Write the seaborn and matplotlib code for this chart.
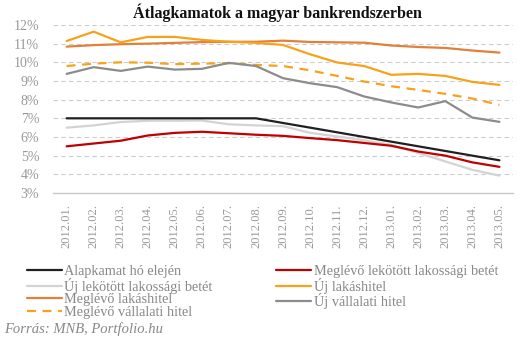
import matplotlib
matplotlib.use("Agg")
import matplotlib.pyplot as plt
import seaborn as sns
import pandas as pd

months = ["2012.01.", "2012.02.", "2012.03.", "2012.04.", "2012.05.", "2012.06.",
          "2012.07.", "2012.08.", "2012.09.", "2012.10.", "2012.11.", "2012.12.",
          "2013.01.", "2013.02.", "2013.03.", "2013.04.", "2013.05."]

alapkamat = [7.0, 7.0, 7.0, 7.0, 7.0, 7.0, 7.0, 7.0, 6.75, 6.5, 6.25, 6.0,
             5.75, 5.5, 5.25, 5.0, 4.75]
meglevo_betet = [5.5, 5.65, 5.8, 6.08, 6.22, 6.28, 6.2, 6.12, 6.06, 5.94, 5.83,
                 5.68, 5.53, 5.22, 5.0, 4.64, 4.4]
uj_betet = [6.5, 6.62, 6.8, 6.87, 6.87, 6.88, 6.68, 6.62, 6.58, 6.22, 6.03,
            5.82, 5.58, 5.14, 4.69, 4.24, 3.93]
uj_lakashitel = [11.14, 11.64, 11.07, 11.36, 11.36, 11.2, 11.1, 11.04, 10.93,
                 10.43, 9.99, 9.8, 9.33, 9.38, 9.27, 8.95, 8.79]
meglevo_lakashitel = [10.84, 10.92, 10.97, 11.0, 11.04, 11.08, 11.1, 11.1, 11.16,
                      11.09, 11.07, 11.05, 10.9, 10.82, 10.77, 10.63, 10.52]
uj_vallalati = [9.38, 9.74, 9.54, 9.77, 9.61, 9.65, 9.97, 9.8, 9.15, 8.88, 8.67,
                8.17, 7.85, 7.58, 7.92, 7.04, 6.81]
meglevo_vallalati = [9.8, 9.93, 10.0, 9.98, 9.9, 9.93, 9.95, 9.86, 9.8, 9.57,
                     9.27, 8.97, 8.72, 8.52, 8.31, 8.06, 7.72]

series = [
    ("Alapkamat hó elején", alapkamat, "#231F20", "-"),
    ("Új lekötött lakossági betét", uj_betet, "#D3D3D3", "-"),
    ("Meglévő lakáshitel", meglevo_lakashitel, "#E0803A", "-"),
    ("Meglévő vállalati hitel", meglevo_vallalati, "#F7A21B", "--"),
    ("Meglévő lekötött lakossági betét", meglevo_betet, "#C00000", "-"),
    ("Új lakáshitel", uj_lakashitel, "#F7A21B", "-"),
    ("Új vállalati hitel", uj_vallalati, "#8C8C8C", "-"),
]

# draw order (back to front) differs from legend order
draw_order = [2, 5, 3, 6, 1, 4, 0]

sns.set_theme(style="white")
plt.rcParams["font.family"] = ["Liberation Serif", "DejaVu Serif"]

fig = plt.figure(figsize=(5.31, 3.42), dpi=100)
ax = fig.add_axes([0.1, 0.4357, 0.866, 0.4913])

x = list(range(len(months)))
lines = {}
for i in draw_order:
    name, vals, col, ls = series[i]
    df = pd.DataFrame({"x": x, "y": vals})
    sns.lineplot(data=df, x="x", y="y", ax=ax, color=col, linewidth=1.6,
                 linestyle=ls, label=name, legend=False)
    lines[i] = ax.lines[-1]
    if ls == "--":
        lines[i].set_dashes((4, 3))

ax.set_xlim(-0.5, len(months) - 0.5)
ax.set_ylim(3, 12)
ax.set_yticks(range(3, 13))
ax.set_yticklabels([f"{v}%" for v in range(3, 13)])
ax.set_xticks(x)
ax.set_xticklabels(months, rotation=90)
ax.set_xlabel("")
ax.set_ylabel("")

for v in range(4, 13):
    ax.axhline(v, color="#CCCCCC", linewidth=0.8, linestyle=(0, (4, 3)), zorder=0)

for s in ["top", "right", "left"]:
    ax.spines[s].set_visible(False)
ax.spines["bottom"].set_color("#C8C8C8")
ax.spines["bottom"].set_linewidth(1.0)

ax.tick_params(axis="y", length=0, pad=10, labelsize=10, labelcolor="#999999")
ax.tick_params(axis="x", length=0, pad=8, labelsize=9, labelcolor="#999999")

fig.text(0.523, 0.962, "Átlagkamatok a magyar bankrendszerben", ha="center",
         va="center", fontsize=11.5, fontweight="bold", color="#111111")

handles = [lines[i] for i in range(len(series))]
labels = [s[0] for s in series]
leg = fig.legend(handles, labels, ncol=2, loc="upper left",
                 bbox_to_anchor=(0.05, 0.225), frameon=False, fontsize=10.3,
                 handlelength=2.5, handletextpad=0.15, labelspacing=-0.03,
                 columnspacing=4.4, borderaxespad=0, borderpad=0)
for t in leg.get_texts():
    t.set_color("#888888")

fig.text(0.008, 0.038, "Forrás: MNB, Portfolio.hu", ha="left", va="center",
         fontsize=10.5, style="italic", color="#888888")

fig.savefig("out.png", dpi=100)
